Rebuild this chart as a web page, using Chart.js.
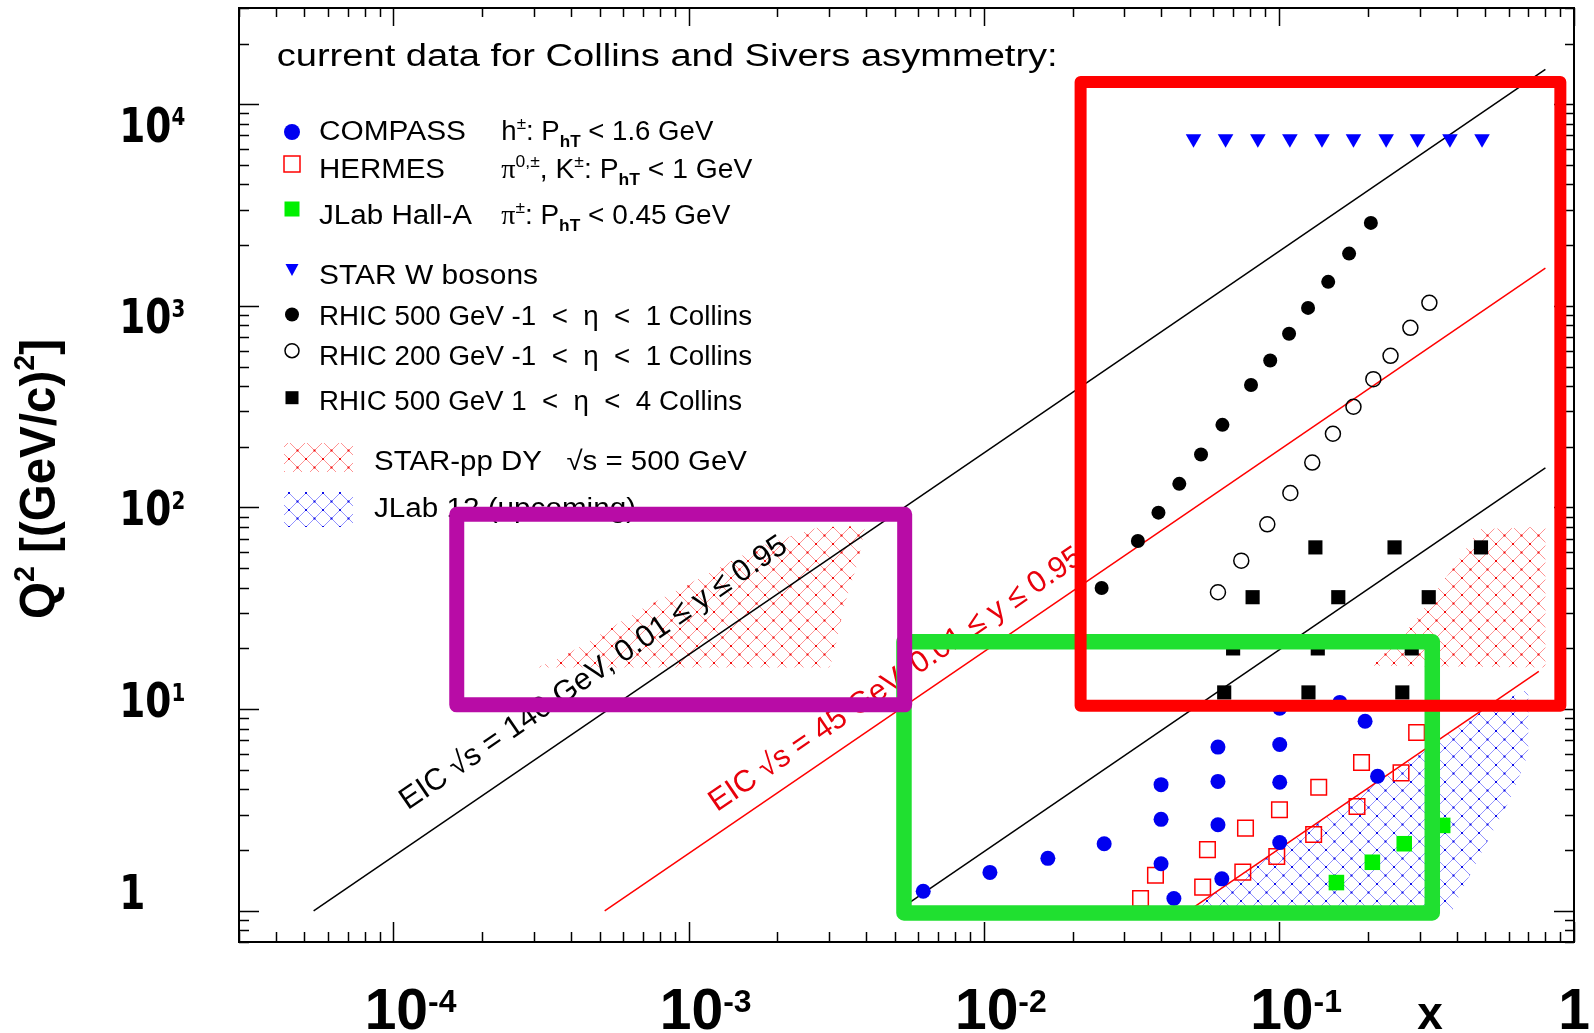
<!DOCTYPE html>
<html>
<head>
<meta charset="utf-8">
<title>Current data for Collins and Sivers asymmetry</title>
<script src="https://cdn.jsdelivr.net/npm/chart.js@4.4.1/dist/chart.umd.min.js"></script>
<style>
  html, body { margin: 0; padding: 0; background: #ffffff; }
  #wrap { position: relative; width: 1594px; height: 1033px; }
</style>
</head>
<body>
<div id="wrap"><canvas id="coverageChart"></canvas></div>
<script>
// --- data: x and Q^2 [(GeV/c)^2] ---
const compassX  = [0.00624, 0.0105, 0.0165, 0.0256, 0.0399, 0.0399, 0.0399, 0.0441, 0.0622, 0.0622, 0.0622, 0.0641, 0.1007, 0.1007, 0.1007, 0.1007, 0.161, 0.196, 0.216];
const compassQ2 = [1.25, 1.55, 1.82, 2.15, 4.22, 2.84, 1.71, 1.15, 6.48, 4.38, 2.67, 1.44, 10.1, 6.68, 4.34, 2.18, 10.8, 8.71, 4.65];

const hermesX  = [0.0340, 0.0382, 0.0573, 0.0771, 0.1005, 0.1365, 0.1906, 0.293, 0.0552, 0.0755, 0.0984, 0.1312, 0.184, 0.2594];
const hermesQ2 = [1.15, 1.50, 2.01, 2.57, 3.17, 4.10, 5.44, 7.66, 1.31, 1.555, 1.86, 2.39, 3.29, 4.83];

const jlabX  = [0.1567, 0.2074, 0.266, 0.359];
const jlabQ2 = [1.38, 1.74, 2.15, 2.65];

const starWX  = [0.0514, 0.0660, 0.0849, 0.109, 0.140, 0.179, 0.231, 0.295, 0.380, 0.488];
const starWQ2 = [6750, 6750, 6750, 6750, 6750, 6750, 6750, 6750, 6750, 6750];

const rhic500X  = [0.0251, 0.0333, 0.0391, 0.0460, 0.0545, 0.0644, 0.0805, 0.0935, 0.1083, 0.1256, 0.147, 0.173, 0.205];
const rhic500Q2 = [39.9, 68.2, 94.3, 131, 183, 257, 405, 536, 727, 977, 1315, 1816, 2578];

const rhic200X  = [0.0622, 0.0746, 0.0914, 0.1094, 0.1298, 0.1525, 0.179, 0.209, 0.239, 0.279, 0.3236];
const rhic200Q2 = [38, 54.5, 82.5, 118, 167, 232, 316, 433, 565, 778, 1035];

const rhicFwdX  = [0.133, 0.2466, 0.484, 0.0815, 0.159, 0.322, 0.070, 0.1355, 0.282, 0.0653, 0.126, 0.262];
const rhicFwdQ2 = [63.4, 63.4, 63.4, 35.9, 35.9, 35.9, 20, 20, 20, 12.1, 12.1, 12.1];

// EIC kinematic limits (end points)
const eic140HiX = [5.37e-5, 0.8],  eic140HiQ2 = [1, 14900];
const eic140LoX = [5.1e-3, 0.8],   eic140LoQ2 = [1, 157];
const eic45HiX  = [5.2e-4, 0.8],   eic45HiQ2  = [1, 1540];
const eic45LoX  = [0.0494, 0.76],  eic45LoQ2  = [1, 15.4];

// hatched regions (outline points)
const dyLowX  = [3.06e-4, 3.41e-4, 4.28e-4, 6.97e-4, 1.10e-3, 1.72e-3, 2.76e-3, 3.97e-3, 3.76e-3, 3.36e-3, 3.09e-3, 3.0e-3, 3.06e-4];
const dyLowQ2 = [16.1, 17.1, 20.3, 31.5, 45, 63.5, 79.7, 81, 54.5, 32, 18.1, 16.1, 16.1];
const dyHighX  = [0.208, 0.284, 0.398, 0.478, 0.80, 0.80, 0.208];
const dyHighQ2 = [16.4, 26.5, 52.5, 78.2, 79.7, 16.1, 16.4];
const jlab12X  = [0.0494, 0.50, 0.70, 0.70, 0.604, 0.497, 0.409, 0.385, 0.0494];
const jlab12Q2 = [1.0, 10.0, 12.6, 6.0, 3.52, 2.07, 1.19, 1.0, 1.0];

// axis tick labels
const xTickValues = [1e-4, 1e-3, 1e-2, 1e-1, 1];
const xTickExps   = ['-4', '-3', '-2', '-1', ''];
const yTickValues = [10000, 1000, 100, 10, 1];
const yTickExps   = ['4', '3', '2', '1', ''];

// highlight boxes [xMin, xMax, yMin, yMax]
const redBox    = [0.0213, 0.899, 10.4, 12880];
const greenBox  = [5.37e-3, 0.331, 0.976, 21.6];
const purpleBox = [1.64e-4, 5.40e-3, 10.5, 92.6];

const SANS = '"Liberation Sans", Arial, sans-serif';

function pts(xs, ys) {
  return xs.map((v, i) => ({ x: v, y: ys[i] }));
}

function makeHatch(line, dot) {
  const s = 17;
  const tile = document.createElement('canvas');
  tile.width = s;
  tile.height = s;
  const g = tile.getContext('2d');
  g.strokeStyle = line;
  g.lineWidth = 1;
  g.beginPath();
  g.moveTo(0, 0); g.lineTo(s, s);
  g.moveTo(0, s); g.lineTo(s, 0);
  g.stroke();
  g.fillStyle = dot;
  [[s / 2, s / 2], [0, 0], [s, 0], [0, s], [s, s]].forEach(([cx, cy]) => {
    g.fillRect(cx - 1, cy - 1, 2, 2);
  });
  return g.createPattern(tile, 'repeat');
}
const redHatch = makeHatch('rgba(255,40,40,0.5)', 'rgba(240,0,0,0.9)');
const blueHatch = makeHatch('rgba(40,40,255,0.5)', 'rgba(0,0,230,0.9)');

// text with sup/sub parts, optional horizontal stretch and rotation
function drawRich(ctx, parts, x, y, o) {
  const size = o.size;
  const fam = o.family || SANS;
  const weight = o.weight || 'normal';
  const supScale = o.supScale || 0.62;
  const supRaise = o.supRaise || 0.37;
  const fontFor = (st) => {
    const s = (st === 'sup' || st === 'sub') ? size * supScale : size;
    const ff = st === 'g' ? '"Liberation Serif", serif' : fam;
    const w = st === 'sub' ? 'bold' : weight;
    return `${w} ${s}px ${ff}`;
  };
  let natural = 0;
  parts.forEach(([t, st]) => {
    ctx.font = fontFor(st);
    natural += ctx.measureText(t).width;
  });
  const sx = o.width ? o.width / natural : (o.sx || 1);
  ctx.save();
  ctx.translate(x, y);
  if (o.angle) ctx.rotate(o.angle);
  if (o.align === 'center') ctx.translate(-natural * sx / 2, 0);
  ctx.scale(sx, 1);
  ctx.fillStyle = o.color || '#000';
  ctx.textBaseline = 'alphabetic';
  ctx.textAlign = 'left';
  let cx = 0;
  parts.forEach(([t, st]) => {
    ctx.font = fontFor(st);
    const dy = st === 'sup' ? -size * supRaise : st === 'sub' ? size * 0.27 : 0;
    ctx.fillText(t, cx, dy);
    cx += ctx.measureText(t).width;
  });
  ctx.restore();
  return natural * sx;
}

function drawMarker(ctx, kind, px, py) {
  ctx.save();
  ctx.beginPath();
  if (kind === 'compass') {
    ctx.fillStyle = '#0000f0';
    ctx.arc(px, py, 8, 0, Math.PI * 2);
    ctx.fill();
  } else if (kind === 'hermes') {
    ctx.strokeStyle = '#ff0000';
    ctx.lineWidth = 1.5;
    ctx.strokeRect(px - 8, py - 8, 16, 16);
  } else if (kind === 'jlab') {
    ctx.fillStyle = '#00f000';
    ctx.fillRect(px - 7.5, py - 7.5, 15, 15);
  } else if (kind === 'starw') {
    ctx.fillStyle = '#0000ff';
    ctx.moveTo(px - 6.5, py - 5);
    ctx.lineTo(px + 6.5, py - 5);
    ctx.lineTo(px, py + 7);
    ctx.closePath();
    ctx.fill();
  } else if (kind === 'rhic500') {
    ctx.fillStyle = '#000';
    ctx.arc(px, py, 7, 0, Math.PI * 2);
    ctx.fill();
  } else if (kind === 'rhic200') {
    ctx.strokeStyle = '#000';
    ctx.lineWidth = 1.5;
    ctx.arc(px, py, 7, 0, Math.PI * 2);
    ctx.stroke();
  } else if (kind === 'rhicfwd') {
    ctx.fillStyle = '#000';
    ctx.fillRect(px - 6.5, py - 6.5, 13, 13);
  }
  ctx.restore();
}

const legendRows = [
  { kind: 'compass', my: 132, by: 139.5, text: [['COMPASS', '']], w: 147,
    col2: [['h', ''], ['±', 'sup'], [': P', ''], ['hT', 'sub'], [' < 1.6 GeV', '']], w2: 212 },
  { kind: 'hermes', my: 164, by: 177.5, text: [['HERMES', '']], w: 126,
    col2: [['π', 'g'], ['0,±', 'sup'], [', K', ''], ['±', 'sup'], [': P', ''], ['hT', 'sub'], [' < 1 GeV', '']], w2: 251 },
  { kind: 'jlab', my: 209, by: 224, text: [['JLab Hall-A', '']], w: 153,
    col2: [['π', 'g'], ['±', 'sup'], [': P', ''], ['hT', 'sub'], [' < 0.45 GeV', '']], w2: 229 },
  { kind: 'starw', my: 269, by: 284.3, text: [['STAR W bosons', '']], w: 219 },
  { kind: 'rhic500', my: 314.5, by: 324.5, text: [['RHIC 500 GeV -1  <  ', ''], ['η', ''], ['  <  1 Collins', '']], w: 433 },
  { kind: 'rhic200', my: 350.7, by: 365, text: [['RHIC 200 GeV -1  <  ', ''], ['η', ''], ['  <  1 Collins', '']], w: 433 },
  { kind: 'rhicfwd', my: 397.7, by: 409.5, text: [['RHIC 500 GeV 1  <  ', ''], ['η', ''], ['  <  4 Collins', '']], w: 423 },
];

function drawFrame(ctx, a, xs, ys) {
  ctx.save();
  ctx.strokeStyle = '#000';
  ctx.lineWidth = 1.5;
  ctx.beginPath();
  for (let e = -5; e <= 0; e++) {
    for (let m = 1; m <= 9; m++) {
      const v = m * Math.pow(10, e);
      if (v < xs.min * 0.999 || v > xs.max * 1.001) continue;
      const px = Math.round(xs.getPixelForValue(v)) + 0.5;
      const big = m === 1;
      ctx.moveTo(px, a.bottom); ctx.lineTo(px, a.bottom - (big ? 20 : 10));
      ctx.moveTo(px, a.top); ctx.lineTo(px, a.top + (big ? 18 : 9));
    }
  }
  for (let e = -1; e <= 4; e++) {
    for (let m = 1; m <= 9; m++) {
      const v = m * Math.pow(10, e);
      if (v < ys.min * 0.999 || v > ys.max * 1.001) continue;
      const py = Math.round(ys.getPixelForValue(v)) + 0.5;
      const big = m === 1;
      ctx.moveTo(a.left, py); ctx.lineTo(a.left + (big ? 20 : 10), py);
      ctx.moveTo(a.right, py); ctx.lineTo(a.right - (big ? 20 : 9), py);
    }
  }
  ctx.stroke();
  ctx.lineWidth = 2;
  ctx.strokeRect(a.left, a.top, a.right - a.left, a.bottom - a.top);
  ctx.restore();
}

function drawAxisLabels(ctx, a, xs, ys) {
  // x tick labels: "10" centred on the tick, exponent as superscript
  xTickValues.forEach((v, i) => {
    const px = xs.getPixelForValue(v);
    ctx.font = `bold 57px ${SANS}`;
    if (xTickExps[i] === '') {
      drawRich(ctx, [['1', '']], px, 1029, { size: 57, weight: 'bold', align: 'center' });
      return;
    }
    const w10 = ctx.measureText('10').width;
    drawRich(ctx, [['10', ''], [xTickExps[i], 'sup']], px - w10 / 2 + 3, 1029,
      { size: 57, weight: 'bold', supScale: 0.56, supRaise: 0.3 });
  });
  drawRich(ctx, [['x', '']], 1430, 1029, { size: 46, weight: 'bold', align: 'center' });

  // y tick labels
  yTickValues.forEach((v, i) => {
    const base = 141.6 + i * 191.85;
    const parts = yTickExps[i] === '' ? [['1', '']] : [['10', ''], [yTickExps[i], 'sup']];
    drawRich(ctx, parts, 119.3, base,
      { size: 48, weight: 'bold', family: '"DejaVu Sans", sans-serif', sx: 0.78, supScale: 0.53, supRaise: 0.34 });
  });

  // y title
  drawRich(ctx, [['Q', ''], ['2', 'sup'], [' [(GeV/c)', ''], ['2', 'sup'], [']', '']], 55, 479,
    { size: 50, weight: 'bold', angle: -Math.PI / 2, align: 'center', width: 280, supScale: 0.6, supRaise: 0.42 });
}

function drawLegend(ctx) {
  drawRich(ctx, [['current data for Collins and Sivers asymmetry:', '']], 276.7, 65.7, { size: 31, width: 781 });
  legendRows.forEach((r) => {
    drawMarker(ctx, r.kind, 292, r.my);
    drawRich(ctx, r.text, 319, r.by, { size: 27, width: r.w });
    if (r.col2) drawRich(ctx, r.col2, 501.3, r.by, { size: 27, width: r.w2, supRaise: 0.4 });
  });
  ctx.save();
  ctx.fillStyle = redHatch;
  ctx.fillRect(284, 443, 69, 29);
  ctx.fillStyle = blueHatch;
  ctx.fillRect(284, 492, 69, 35);
  ctx.restore();
  drawRich(ctx, [['STAR-pp DY   √s = 500 GeV', '']], 374, 470, { size: 27, width: 373 });
  drawRich(ctx, [['JLab 12 (upcoming)', '']], 374, 516.7, { size: 27, width: 262 });
}

function drawEicLabels(ctx, xs, ys) {
  const ang = Math.atan2(
    ys.getPixelForValue(eic140HiQ2[1]) - ys.getPixelForValue(eic140HiQ2[0]),
    xs.getPixelForValue(eic140HiX[1]) - xs.getPixelForValue(eic140HiX[0]));
  drawRich(ctx, [['EIC √s = 140 GeV, 0.01 ≤ y ≤ 0.95', '']],
    xs.getPixelForValue(1.12e-4), ys.getPixelForValue(3.14), { size: 30.5, angle: ang, color: '#000' });
  drawRich(ctx, [['EIC √s = 45 GeV, 0.01 ≤ y ≤ 0.95', '']],
    xs.getPixelForValue(1.25e-3), ys.getPixelForValue(3.08), { size: 30.5, angle: ang, color: '#e8000b' });
}

function drawBox(ctx, xs, ys, b, color, lw) {
  const l = xs.getPixelForValue(b[0]);
  const r = xs.getPixelForValue(b[1]);
  const bt = ys.getPixelForValue(b[2]);
  const t = ys.getPixelForValue(b[3]);
  ctx.save();
  ctx.strokeStyle = color;
  ctx.lineWidth = lw;
  ctx.lineJoin = 'round';
  ctx.strokeRect(l, t, r - l, bt - t);
  ctx.restore();
}

const overlayPlugin = {
  id: 'overlay',
  afterDatasetsDraw(chart) {
    const { ctx, chartArea: a, scales: { x, y } } = chart;
    drawFrame(ctx, a, x, y);
    drawAxisLabels(ctx, a, x, y);
    drawLegend(ctx);
    drawEicLabels(ctx, x, y);
    drawBox(ctx, x, y, greenBox, '#20e030', 15.5);
    drawBox(ctx, x, y, redBox, '#ff0000', 12);
    drawBox(ctx, x, y, purpleBox, '#b80ca6', 15);
  },
};

function markerSet(label, xs, ys, style, radius, fill, stroke, bw, rot) {
  return {
    label,
    data: pts(xs, ys),
    showLine: false,
    pointStyle: style,
    pointRadius: radius,
    pointHoverRadius: radius,
    pointRotation: rot || 0,
    pointBackgroundColor: fill,
    pointBorderColor: stroke,
    pointBorderWidth: bw,
  };
}

function lineSet(label, xs, ys, color) {
  return {
    label,
    data: pts(xs, ys),
    borderColor: color,
    borderWidth: 1.5,
    pointRadius: 0,
    fill: false,
  };
}

function hatchSet(label, xs, ys, pattern) {
  return {
    label,
    data: pts(xs, ys),
    borderColor: 'rgba(0,0,0,0)',
    borderWidth: 0,
    backgroundColor: pattern,
    pointRadius: 0,
    fill: 'shape',
  };
}

const ctx = document.getElementById('coverageChart').getContext('2d');
const coverageChart = new Chart(ctx, {
  type: 'line',
  data: {
    datasets: [
      markerSet('COMPASS', compassX, compassQ2, 'circle', 7.5, '#0000f0', '#0000f0', 0),
      markerSet('HERMES', hermesX, hermesQ2, 'rect', 11, 'rgba(0,0,0,0)', '#ff0000', 1.5),
      markerSet('JLab Hall-A', jlabX, jlabQ2, 'rect', 11, '#00f000', '#00f000', 0),
      markerSet('STAR W bosons', starWX, starWQ2, 'triangle', 9, '#0000ff', '#0000ff', 0, 180),
      markerSet('RHIC 500 GeV -1<eta<1', rhic500X, rhic500Q2, 'circle', 7, '#000', '#000', 0),
      markerSet('RHIC 200 GeV -1<eta<1', rhic200X, rhic200Q2, 'circle', 7.5, 'rgba(0,0,0,0)', '#000', 1.5),
      markerSet('RHIC 500 GeV 1<eta<4', rhicFwdX, rhicFwdQ2, 'rect', 10, '#000', '#000', 0),
      lineSet('EIC 140 y=0.95', eic140HiX, eic140HiQ2, '#000'),
      lineSet('EIC 140 y=0.01', eic140LoX, eic140LoQ2, '#000'),
      lineSet('EIC 45 y=0.95', eic45HiX, eic45HiQ2, '#ff0000'),
      lineSet('EIC 45 y=0.01', eic45LoX, eic45LoQ2, '#ff0000'),
      hatchSet('STAR-pp DY low', dyLowX, dyLowQ2, redHatch),
      hatchSet('STAR-pp DY high', dyHighX, dyHighQ2, redHatch),
      hatchSet('JLab 12', jlab12X, jlab12Q2, blueHatch),
    ],
  },
  options: {
    responsive: true,
    maintainAspectRatio: false,
    animation: false,
    devicePixelRatio: 1,
    layout: { autoPadding: false, padding: { left: 239, right: 20, top: 8, bottom: 91 } },
    elements: { line: { tension: 0 } },
    scales: {
      x: { type: 'logarithmic', min: 3e-5, max: 1, display: false },
      y: { type: 'logarithmic', min: 0.7, max: 30000, display: false },
    },
    plugins: {
      legend: { display: false },
      tooltip: { enabled: false },
    },
  },
  plugins: [overlayPlugin],
});
</script>
</body>
</html>
